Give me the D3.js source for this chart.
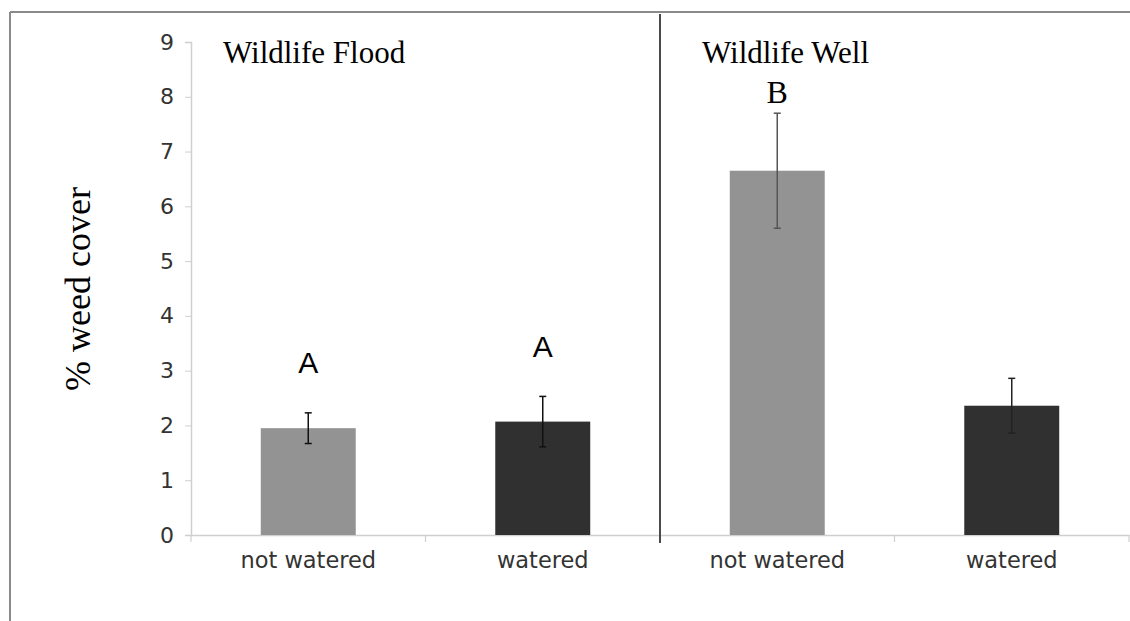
<!DOCTYPE html>
<html>
<head>
<meta charset="utf-8">
<script src="https://cdn.jsdelivr.net/npm/d3@7"></script>
<style>
  html, body { margin: 0; padding: 0; background: #fff; }
  svg { display: block; }
</style>
</head>
<body>
<svg id="chart" width="1130" height="621"></svg>
<script>
// ---- data ----
const categories = ["not watered", "watered", "not watered", "watered"];
const categoryIds = ["flood-nw", "flood-w", "well-nw", "well-w"];
const values = [1.95, 2.07, 6.65, 2.36];
const errors = [0.28, 0.46, 1.05, 0.5];
const letters = ["A", "A", "B", ""];
const letterLevels = [2.96, 3.25, 7.89, null];   // value where each letter's baseline sits
const panelTitles = ["Wildlife Flood", "Wildlife Well"];
const yTicks = [0, 1, 2, 3, 4, 5, 6, 7, 8, 9];
const barColors = ["#939393", "#303030", "#939393", "#303030"];
const errColors = ["#111", "#111", "#555", "#222"];
const letterFonts = ["Liberation Sans, Arial, sans-serif", "Liberation Sans, Arial, sans-serif",
                     "Liberation Serif, Times New Roman, serif", "Liberation Serif, serif"];

// ---- layout ----
const svg = d3.select("#chart");
const plotLeft = 191, plotRight = 1129, plotTop = 42, plotBottom = 535;

const x = d3.scaleBand().domain(categoryIds).range([plotLeft, plotRight])
  .paddingInner(0.595).paddingOuter(0.2975);
const step = x.step();
const y = d3.scaleLinear().domain([0, 9]).range([plotBottom, plotTop]);

// outer frame
svg.append("line").attr("x1", 10).attr("x2", 1130).attr("y1", 12).attr("y2", 12)
  .attr("stroke", "#8a8a8a").attr("stroke-width", 2);
svg.append("line").attr("x1", 10).attr("x2", 10).attr("y1", 12).attr("y2", 621)
  .attr("stroke", "#8a8a8a").attr("stroke-width", 2);

// y axis
const yAxis = svg.append("g").attr("transform", `translate(${plotLeft},0)`)
  .call(d3.axisLeft(y).tickValues(yTicks).tickSize(6).tickPadding(11));
yAxis.select(".domain").attr("stroke", "#cfcfcf").attr("stroke-width", 1.5);
yAxis.selectAll(".tick line").attr("stroke", "#cfcfcf");
yAxis.selectAll(".tick text").attr("font-family", "DejaVu Sans, Verdana, sans-serif")
  .attr("font-size", 22).attr("fill", "#333");

// x axis
const xAxis = svg.append("g").attr("transform", `translate(0,${plotBottom})`)
  .call(d3.axisBottom(x).tickSize(0).tickPadding(17).tickFormat((d, i) => categories[i]));
xAxis.select(".domain").attr("stroke", "#cfcfcf").attr("stroke-width", 1.5);
xAxis.selectAll(".tick text").attr("font-family", "DejaVu Sans, Verdana, sans-serif")
  .attr("font-size", 22.5).attr("fill", "#333");
// category boundary ticks
const boundaries = d3.range(categoryIds.length + 1).map(i => plotLeft + i * step);
svg.append("g").selectAll("line").data(boundaries).join("line")
  .attr("x1", d => d).attr("x2", d => d).attr("y1", plotBottom).attr("y2", plotBottom + 7)
  .attr("stroke", "#cfcfcf").attr("stroke-width", 1.2);

// bars
svg.append("g").selectAll("rect").data(values).join("rect")
  .attr("x", (d, i) => x(categoryIds[i]))
  .attr("width", x.bandwidth())
  .attr("y", d => y(d))
  .attr("height", d => y(0) - y(d))
  .attr("fill", (d, i) => barColors[i]);

// error bars
const eg = svg.append("g");
values.forEach((v, i) => {
  const cx = x(categoryIds[i]) + x.bandwidth() / 2;
  const c = errColors[i];
  eg.append("line").attr("x1", cx).attr("x2", cx)
    .attr("y1", y(v + errors[i])).attr("y2", y(v - errors[i]))
    .attr("stroke", c).attr("stroke-width", 1.5);
  [v + errors[i], v - errors[i]].forEach(e => {
    eg.append("line").attr("x1", cx - 3.5).attr("x2", cx + 3.5)
      .attr("y1", y(e)).attr("y2", y(e)).attr("stroke", c).attr("stroke-width", 1.5);
  });
});

// significance letters
svg.append("g").selectAll("text").data(letters).join("text")
  .filter(d => d !== "")
  .attr("x", (d, i) => x(categoryIds[i]) + x.bandwidth() / 2)
  .attr("y", (d, i) => y(letterLevels[i]))
  .attr("text-anchor", "middle")
  .attr("font-family", (d, i) => letterFonts[i])
  .attr("font-size", (d, i) => i < 2 ? 30 : 32).attr("fill", "#000")
  .text(d => d);

// divider between panels
const divX = plotLeft + 2 * step;
svg.append("line").attr("x1", divX).attr("x2", divX).attr("y1", 14).attr("y2", plotBottom + 8)
  .attr("stroke", "#4a4a4a").attr("stroke-width", 2);

// panel titles
const titleX = [plotLeft + 32, divX + 42];
svg.append("g").selectAll("text").data(panelTitles).join("text")
  .attr("x", (d, i) => titleX[i]).attr("y", 63)
  .attr("font-family", "Liberation Serif, Times New Roman, serif")
  .attr("font-size", 31).attr("fill", "#000")
  .text(d => d);

// y label
svg.append("text")
  .attr("transform", `translate(90,289) rotate(-90)`)
  .attr("text-anchor", "middle")
  .attr("font-family", "Liberation Serif, Times New Roman, serif")
  .attr("font-size", 36).attr("fill", "#000")
  .text("% weed cover");
</script>
</body>
</html>
